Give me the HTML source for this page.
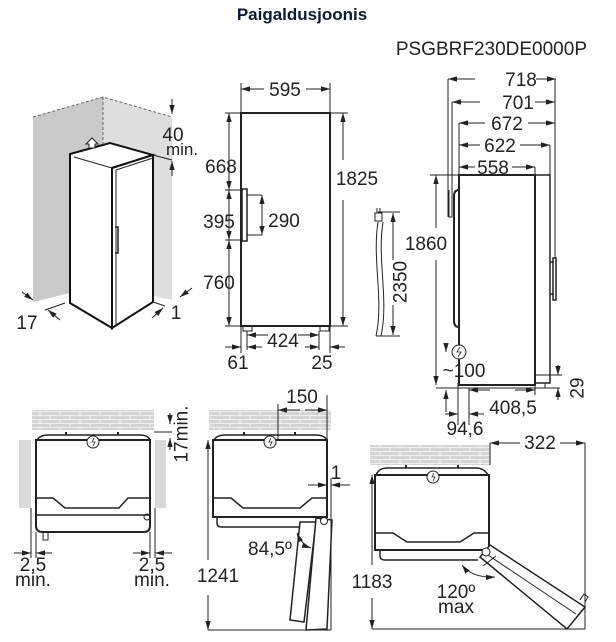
<!DOCTYPE html>
<html><head><meta charset="utf-8"><style>
html,body{margin:0;padding:0;background:#fff;overflow:hidden}
svg{display:block}
text{font-family:"Liberation Sans",Arial,sans-serif;fill:#222}
.d{font-size:19px}
</style></head><body>
<svg width="616" height="642" viewBox="0 0 616 642" xmlns="http://www.w3.org/2000/svg">
<defs>
<marker id="a" viewBox="0 0 10 6" refX="10" refY="3" markerWidth="9" markerHeight="5.4" markerUnits="userSpaceOnUse" orient="auto-start-reverse"><path d="M0,0L10,3L0,6z" fill="#222"/></marker>
<pattern id="br" width="20" height="8" patternUnits="userSpaceOnUse"><rect width="20" height="8" fill="#d4d4d4"/><path d="M0,7.5H20M10,0V4M0,3.5H20M0,4V8M20,4V8" stroke="#eee" stroke-width="1"/></pattern>
</defs>
<text x="302" y="20" text-anchor="middle" style="font-size:17px;font-weight:bold;fill:#0a1a3a">Paigaldusjoonis</text>
<text x="587" y="55" text-anchor="end" style="font-size:19px">PSGBRF230DE0000P</text>

<g stroke="#222" fill="none" stroke-width="1">
<!-- perspective -->
<polygon points="33,117 103,97 103,285 33,302" fill="#c9c9c9" stroke="none"/>
<polygon points="103,97 172,117 172,300 103,285" fill="#dedede" stroke="none"/>
<path d="M33,117L103,97L172,117M103,97V150" stroke-dasharray="3,2" stroke="#666"/>
<polygon points="70,154 110,143 153,155 112,168 112,328 70,303" fill="#fff" stroke="#111" stroke-width="2"/>
<polygon points="112,168 153,155 153,302 112,328" fill="#fff" stroke="#111" stroke-width="2"/>
<path d="M74,157L112,168M116,170L153,158M116,170V326" stroke-width="1"/>
<path d="M115,227h3v26h-3" stroke-width="1.5"/>
<path d="M89,148v-4h-3l6,-6l6,6h-3v4z" fill="#fff"/>
<path d="M153,155L172,160"/>
<path d="M172,99V114" marker-end="url(#a)"/><path d="M172,176V161" marker-end="url(#a)"/>
<path d="M22,292L33,300" marker-end="url(#a)"/><path d="M60,320L48,310" marker-end="url(#a)"/><path d="M45,310L65,303"/>
<path d="M192,288L180,297" marker-end="url(#a)"/><path d="M152,318L163,308" marker-end="url(#a)"/><path d="M153,302L165,306"/>

<!-- front view -->
<rect x="241" y="113" width="89" height="213" stroke-width="2"/>
<path d="M243,326h9v5h-9zM320,326h9v5h-9z"/>
<path d="M241,83V113M330,83V113M225,113H241M225,326H241M330,113H348M330,326H348"/>
<path d="M264,89H241" marker-end="url(#a)"/><path d="M306,89H330" marker-end="url(#a)"/>
<path d="M229,150V113" marker-end="url(#a)"/><path d="M229,150V190" marker-end="url(#a)"/>
<path d="M229,215V190" marker-end="url(#a)"/><path d="M229,215V240" marker-end="url(#a)"/>
<path d="M229,283V240" marker-end="url(#a)"/><path d="M229,283V326" marker-end="url(#a)"/>
<path d="M225,190H243M225,240H243"/>
<path d="M242,189h5v52h-5z" stroke-width="1.5"/>
<path d="M247,195H262M247,235H262"/>
<path d="M262,215V195" marker-end="url(#a)"/><path d="M262,215V235" marker-end="url(#a)"/>
<path d="M343,160V113" marker-end="url(#a)"/><path d="M343,200V326" marker-end="url(#a)"/>
<path d="M247,331V350M319,331V350M241,326V353M330,326V353"/>
<path d="M268,335H247" marker-end="url(#a)"/><path d="M298,335H319" marker-end="url(#a)"/>
<path d="M225,347H241" marker-end="url(#a)"/><path d="M262,347H247" marker-end="url(#a)"/>
<path d="M305,347H319" marker-end="url(#a)"/><path d="M345,347H330" marker-end="url(#a)"/>

<!-- cord -->
<path d="M378,222C372,260 384,300 376,336M383,222C377,260 389,300 381,336" stroke-width="1"/>
<path d="M375,213h7v8h-7z" fill="#fff"/><path d="M377,213v-5M380,213v-5"/>
<path d="M378,212H400M376,336H400"/>
<path d="M393,260V213" marker-end="url(#a)"/><path d="M393,305V335" marker-end="url(#a)"/>

<!-- side view -->
<rect x="459" y="175" width="76" height="210" stroke-width="2"/>
<rect x="535" y="175" width="15" height="208" stroke-width="1.5"/>
<path d="M550,262h4M550,294h4M553,258h3v42h-3z" stroke-width="1.5"/>
<path d="M459,190Q454,190 454,196V321Q454,327 459,327" stroke-width="2"/>
<path d="M449,190v27h3v-27" stroke-width="1"/>
<path d="M448,79V217M452,102V217M459,123V175M555,79V258M550,145V175M535,167V175"/>
<path d="M475,79H448" marker-end="url(#a)"/><path d="M536,79H556" marker-end="url(#a)"/>
<path d="M480,102H452" marker-end="url(#a)"/><path d="M535,102H555" marker-end="url(#a)"/>
<path d="M485,123H459" marker-end="url(#a)"/><path d="M528,123H555" marker-end="url(#a)"/>
<path d="M480,145H459" marker-end="url(#a)"/><path d="M520,145H550" marker-end="url(#a)"/>
<path d="M475,167H459" marker-end="url(#a)"/><path d="M512,167H535" marker-end="url(#a)"/>
<path d="M430,175H459M436,388H560"/>
<path d="M436,228V175" marker-end="url(#a)"/><path d="M436,260V385" marker-end="url(#a)"/>
<circle cx="459" cy="352" r="7" fill="#fff"/>
<path d="M460,347l-3,5h4l-3,5" stroke-width="0.8"/>
<path d="M446,343V352" marker-end="url(#a)"/>
<path d="M446,412V390" marker-end="url(#a)"/>
<path d="M458,383V425M469,388V425M535,385V395"/>
<path d="M490,390H469" marker-end="url(#a)"/><path d="M515,390H535" marker-end="url(#a)"/>
<path d="M445,414H458" marker-end="url(#a)"/><path d="M484,414H469" marker-end="url(#a)"/>
<path d="M535,383h10v5h-10zM535,375H562"/>
<path d="M558,365V375" marker-end="url(#a)"/><path d="M558,400V388" marker-end="url(#a)"/>

<!-- bottom panel 1 -->
<rect x="32" y="410" width="122" height="20" fill="url(#br)" stroke="none"/>
<rect x="19" y="440" width="12" height="68" fill="#d9d9d9" stroke="none"/>
<rect x="155" y="440" width="11" height="68" fill="#d9d9d9" stroke="none"/>
<path d="M37,440Q40,435 48,435H140Q148,435 150,440" stroke-width="1.5"/>
<path d="M66,435v-3M118,435v-3" stroke-width="2"/>
<path d="M36,440H150V526Q150,532 143,532H43Q36,532 36,526Z" stroke-width="2"/>
<path d="M36,498H53L65,508H119L128,498H150M36,515H150" stroke-width="1.5"/>
<circle cx="147" cy="517" r="3"/>
<path d="M43,532v8h5v-8"/>
<circle cx="93" cy="442" r="6" fill="#fff"/><path d="M94,438l-2,4h3l-2,4" stroke-width="0.8"/>
<path d="M154,432H172"/>
<path d="M170,413V424" marker-end="url(#a)"/><path d="M170,450V438" marker-end="url(#a)"/>
<path d="M31,508V558M36,532V558M150,532V558M155,508V558"/>
<path d="M14,553H31" marker-end="url(#a)"/><path d="M52,553H36" marker-end="url(#a)"/>
<path d="M133,553H150" marker-end="url(#a)"/><path d="M172,553H155" marker-end="url(#a)"/>

<!-- bottom panel 2 -->
<rect x="209" y="410" width="122" height="20" fill="url(#br)" stroke="none"/>
<path d="M214,440Q217,435 225,435H316Q324,435 327,440" stroke-width="1.5"/>
<path d="M244,435v-3M295,435v-3" stroke-width="2"/>
<rect x="213" y="440" width="114" height="77" stroke-width="2"/>
<path d="M213,498H231L243,508H300L312,498H327" stroke-width="1.5"/>
<path d="M217,517V523Q217,527 222,527H300" stroke-width="1.5"/>
<circle cx="270" cy="442" r="6" fill="#fff"/><path d="M271,438l-2,4h3l-2,4" stroke-width="0.8"/>
<polygon points="300,522 316,522 304,622 290,620" fill="#fff" stroke-width="1.5"/>
<polygon points="316,518 332,520 327,629 306,630" fill="#fff" stroke-width="1.5"/>
<circle cx="324" cy="521" r="3.5" fill="#fff"/>
<path d="M278,404V440M327,395V440"/>
<path d="M300,410H278" marker-end="url(#a)"/><path d="M305,410H327" marker-end="url(#a)"/>
<path d="M308,485H327" marker-end="url(#a)"/><path d="M350,485H331" marker-end="url(#a)"/>
<path d="M331,478V630M208,630H331"/>
<path d="M208,560V440" marker-end="url(#a)"/><path d="M208,595V630" marker-end="url(#a)"/>
<path d="M297,533Q302,545 311,548" marker-start="url(#a)" marker-end="url(#a)"/>

<!-- bottom panel 3 -->
<rect x="370" y="445" width="120" height="20" fill="url(#br)" stroke="none"/>
<path d="M376,475Q379,468 387,468H476Q484,468 488,475" stroke-width="1.5"/>
<path d="M406,468v-3M458,468v-3" stroke-width="2"/>
<rect x="375" y="475" width="114" height="75" stroke-width="2"/>
<path d="M375,533H393L407,542H460L474,533H489" stroke-width="1.5"/>
<path d="M380,550V556Q380,560 385,560H478" stroke-width="1.5"/>
<circle cx="433" cy="477" r="6" fill="#fff"/><path d="M434,473l-2,4h3l-2,4" stroke-width="0.8"/>
<polygon points="490,545 585,607 567,629 480,557" fill="#fff" stroke-width="1.5"/>
<path d="M485,553L576,614M483,566L496,556" stroke-width="1"/>
<path d="M580,600l4,-6l4,3l-3,5" fill="#fff"/>
<circle cx="486" cy="552" r="4" fill="#fff"/>
<path d="M490,443V465M585,443V629M372,629H585"/>
<path d="M520,443H490" marker-end="url(#a)"/><path d="M560,443H585" marker-end="url(#a)"/>
<path d="M372,565V475" marker-end="url(#a)"/><path d="M372,598V629" marker-end="url(#a)"/>
<path d="M462,565Q472,578 495,577" marker-start="url(#a)" marker-end="url(#a)"/>
</g>

<g class="d">
<text x="173" y="141" text-anchor="middle">40</text>
<text x="182" y="155" text-anchor="middle" style="font-size:17px">min.</text>
<text x="27" y="329" text-anchor="middle">17</text>
<text x="176" y="319" text-anchor="middle">1</text>
<text x="285" y="96" text-anchor="middle">595</text>
<text x="221" y="173" text-anchor="middle">668</text>
<text x="219" y="228" text-anchor="middle">395</text>
<text x="219" y="289" text-anchor="middle">760</text>
<text x="284" y="227" text-anchor="middle">290</text>
<text x="357" y="185" text-anchor="middle">1825</text>
<text x="283" y="347" text-anchor="middle">424</text>
<text x="238" y="369" text-anchor="middle">61</text>
<text x="322" y="369" text-anchor="middle">25</text>
<text x="401" y="282" text-anchor="middle" dominant-baseline="central" transform="rotate(-90 401 282)">2350</text>
<text x="521" y="86" text-anchor="middle">718</text>
<text x="518" y="109" text-anchor="middle">701</text>
<text x="507" y="130" text-anchor="middle">672</text>
<text x="500" y="152" text-anchor="middle">622</text>
<text x="493" y="174" text-anchor="middle">558</text>
<text x="426" y="250" text-anchor="middle">1860</text>
<text x="464" y="377" text-anchor="middle">~100</text>
<text x="578" y="388" text-anchor="middle" dominant-baseline="central" transform="rotate(-90 578 388)">29</text>
<text x="513" y="414" text-anchor="middle">408,5</text>
<text x="465" y="435" text-anchor="middle">94,6</text>
<text x="182" y="434" text-anchor="middle" dominant-baseline="central" transform="rotate(-90 182 434)">17min.</text>
<text x="33" y="571" text-anchor="middle">2,5</text>
<text x="33" y="586" text-anchor="middle">min.</text>
<text x="152" y="571" text-anchor="middle">2,5</text>
<text x="152" y="586" text-anchor="middle">min.</text>
<text x="302" y="403" text-anchor="middle">150</text>
<text x="336" y="479" text-anchor="middle">1</text>
<text x="218" y="582" text-anchor="middle">1241</text>
<text x="270" y="555" text-anchor="middle">84,5º</text>
<text x="540" y="449" text-anchor="middle">322</text>
<text x="372" y="588" text-anchor="middle">1183</text>
<text x="456" y="598" text-anchor="middle">120º</text>
<text x="456" y="613" text-anchor="middle">max</text>
</g>
</svg>
</body></html>
